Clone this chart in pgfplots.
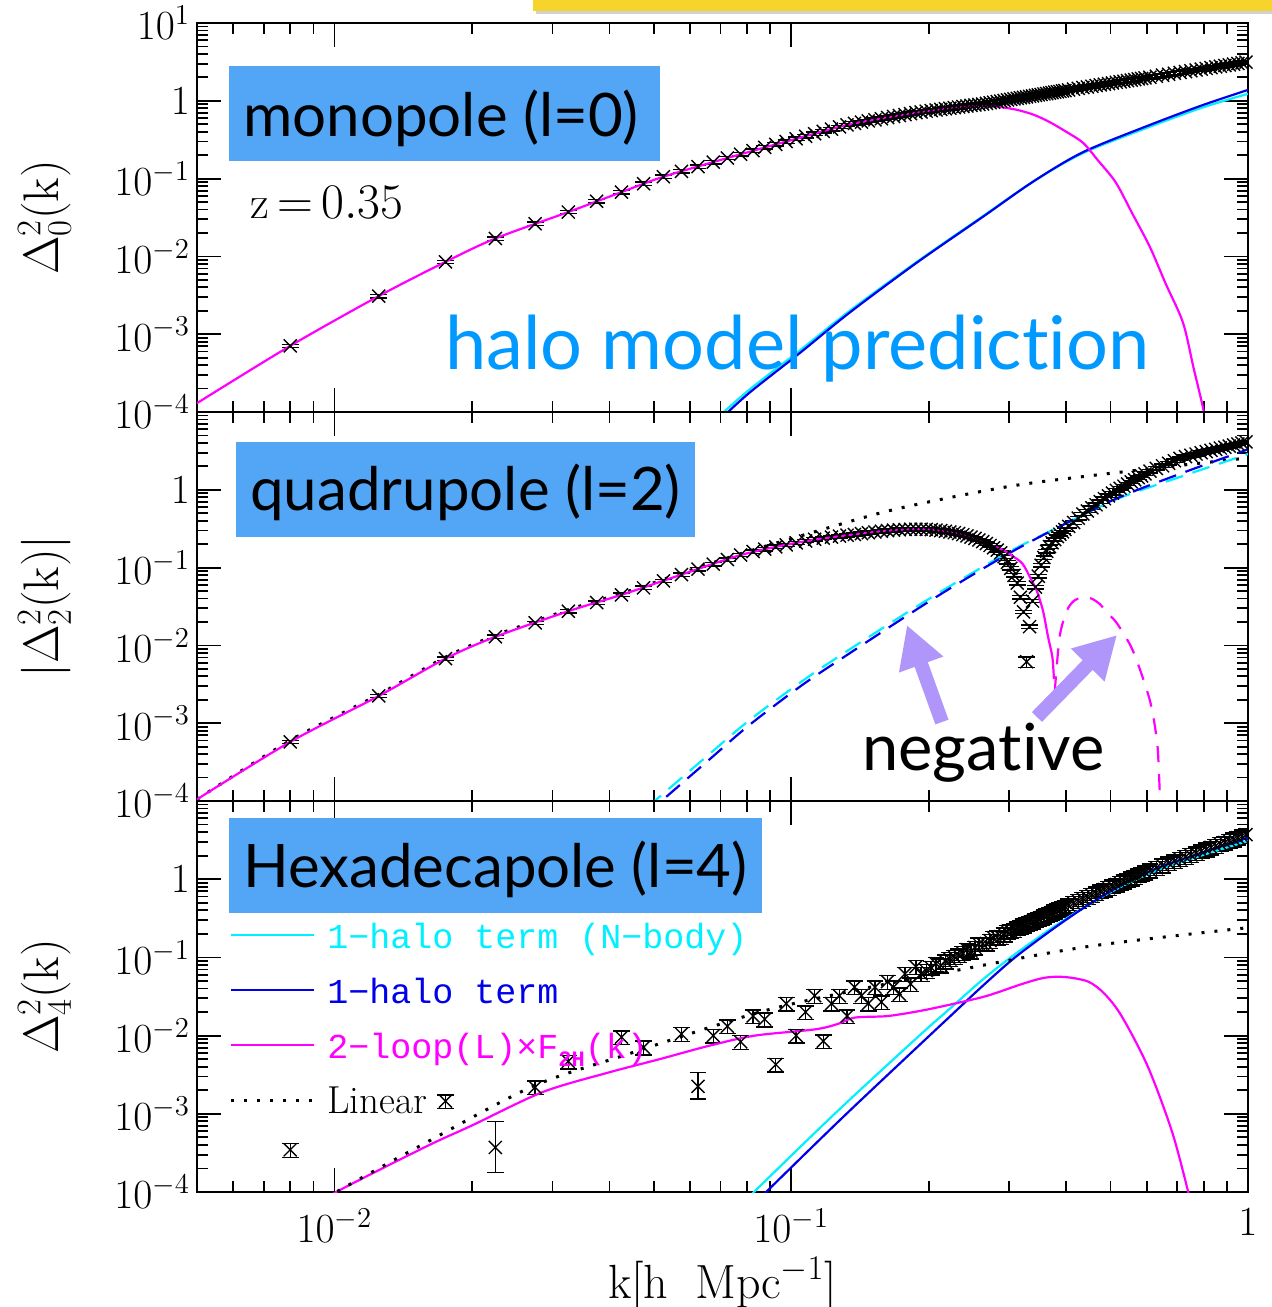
\documentclass[border=0pt]{standalone}
\usepackage{fontspec}
\setmonofont{Liberation Mono}
\newfontfamily\lato[Ligatures={NoCommon,NoContextual,NoRequired,NoDiscretionary}]{Lato}
\usepackage{pgfplots}
\usepackage{pgfplotstable}
\pgfplotsset{compat=1.18}
\usetikzlibrary{arrows.meta}

\definecolor{mag}{RGB}{255,0,255}
\definecolor{cyn}{RGB}{0,240,255}
\definecolor{blu}{RGB}{0,0,235}
\definecolor{boxblue}{RGB}{83,166,246}
\definecolor{predblue}{RGB}{0,153,255}
\definecolor{arrowpurple}{RGB}{176,150,250}
\definecolor{ylw}{RGB}{246,212,44}

% measured points: k, monopole, quadrupole, hexadecapole
\pgfplotstableread{
k m0 m2 m4
0.008 7.08e-4 5.75e-4 3.47e-4
0.0125 3.09e-3 2.24e-3 nan
0.0175 8.51e-3 6.76e-3 1.45e-3
0.0225 0.0170 0.0129 nan
0.0275 0.0263 0.0195 2.19e-3
0.0325 0.0372 0.0275 4.68e-3
0.0375 0.0513 0.0355 nan
0.0425 0.0671 0.0447 9.55e-3
0.0475 0.0859 0.0550 7.08e-3
0.0525 0.1057 0.0676 nan
0.0575 0.124 0.0813 0.0105
0.0625 0.1426 0.0955 nan
0.0675 0.1626 0.111 0.0100
0.0725 0.184 0.127 0.0132
0.0775 0.206 0.145 8.32e-3
0.0825 0.229 0.161 0.0178
0.0875 0.252 0.173 0.0162
0.0925 0.275 0.185 4.27e-3
0.0975 0.300 0.196 0.0257
0.1025 0.325 0.208 0.0100
0.1075 0.350 0.220 0.0200
0.1125 0.377 0.232 0.0324
0.1175 0.405 0.240 8.5e-3
0.1225 0.433 0.247 0.0257
0.1275 0.462 0.254 0.0324
0.1325 0.490 0.261 0.0178
0.1375 0.513 0.267 0.0417
0.1425 0.533 0.274 0.0324
0.1475 0.552 0.281 0.0257
0.1525 0.570 0.287 0.0417
0.1575 0.589 0.294 0.0269
0.1625 0.610 0.299 0.0490
0.1675 0.628 0.303 0.0417
0.1725 0.647 0.306 0.0339
0.1775 0.665 0.309 0.0617
0.1825 0.685 0.311 0.0457
0.1875 0.705 0.312 0.0759
0.1925 0.719 0.312 0.0617
0.1975 0.735 0.310 0.0676
0.2025 0.748 0.308 0.0741
0.2075 0.762 0.303 0.0832
0.2125 0.775 0.299 0.0794
0.2175 0.789 0.293 0.0891
0.2225 0.804 0.287 0.0955
0.2275 0.817 0.281 0.102
0.2325 0.830 0.274 0.107
0.2375 0.845 0.265 0.114
0.2425 0.857 0.256 0.126
0.2475 0.871 0.247 0.120
0.2525 0.883 0.237 0.134
0.2575 0.897 0.226 0.148
0.2625 0.910 0.216 0.149
0.2675 0.927 0.204 0.151
0.2725 0.942 0.193 0.164
0.2775 0.959 0.180 0.178
0.2825 0.977 0.168 0.181
0.2875 0.993 0.155 0.184
0.2925 1.009 0.138 0.198
0.2975 1.026 0.117 0.214
0.3025 1.042 0.0977 0.217
0.3075 1.059 0.0794 0.226
0.3125 1.076 0.0631 0.237
0.3175 1.094 0.0417 0.247
0.3225 1.109 0.0269 0.257
0.3275 1.125 nan 0.267
0.3325 1.143 0.0174 0.279
0.3375 1.159 0.0372 0.288
0.3425 1.175 0.0562 0.301
0.3475 1.191 0.0776 0.312
0.3525 1.208 0.107 0.324
0.3575 1.225 0.135 0.336
0.3625 1.239 0.162 0.348
0.3675 1.256 0.186 0.361
0.3725 1.274 0.209 0.374
0.3775 1.291 0.229 0.388
0.3825 1.306 0.251 0.402
0.3875 1.321 0.269 0.414
0.3925 1.340 0.288 0.430
0.3975 1.355 0.309 0.443
0.405 1.377 0.339 0.465
0.415 1.413 0.380 0.497
0.425 1.442 0.432 0.527
0.435 1.479 0.490 0.564
0.445 1.507 0.535 0.596
0.455 1.538 0.588 0.631
0.465 1.570 0.641 0.664
0.475 1.603 0.705 0.703
0.485 1.633 0.769 0.740
0.495 1.663 0.838 0.778
0.505 1.694 0.906 0.815
0.515 1.726 0.984 0.857
0.525 1.754 1.047 0.897
0.535 1.782 1.114 0.940
0.545 1.816 1.189 0.982
0.555 1.845 1.265 1.028
0.565 1.875 1.346 1.076
0.575 1.910 1.432 1.125
0.585 1.936 1.510 1.169
0.595 1.968 1.607 1.225
0.61 2.009 1.738 1.297
0.63 2.070 1.884 1.400
0.65 2.133 2.037 1.503
0.67 2.193 2.193 1.603
0.69 2.254 2.360 1.710
0.71 2.312 2.529 1.816
0.73 2.371 2.673 1.928
0.75 2.432 2.780 2.046
0.77 2.489 2.877 2.163
0.79 2.553 2.992 2.291
0.81 2.606 3.097 2.410
0.83 2.667 3.206 2.547
0.85 2.723 3.311 2.673
0.87 2.786 3.436 2.825
0.89 2.838 3.532 2.951
0.91 2.897 3.648 3.105
0.93 2.958 3.758 3.243
0.95 3.020 3.882 3.404
0.97 3.076 4.000 3.565
0.99 3.133 4.121 3.724
}\datatab

% points with large error bars
\pgfplotstableread{
k v ep em
0.3275 6.17e-3 0.9e-3 0.95e-3
}\quadbig
\pgfplotstableread{
k v ep em
0.0225 3.72e-4 4.2e-4 1.94e-4
0.0625 2.24e-3 1.15e-3 6.9e-4
}\hexbig

% monopole curves
\pgfplotstableread{
k v
0.005 1.3e-4
0.008 7.08e-4
0.0125 3.09e-3
0.0175 8.51e-3
0.0225 0.0170
0.0325 0.0372
0.0425 0.0671
0.0525 0.1057
0.0725 0.184
0.1025 0.325
0.1325 0.490
0.1625 0.610
0.1925 0.719
0.2225 0.800
0.245 0.845
0.263 0.860
0.285 0.835
0.312 0.766
0.34 0.66
0.367 0.537
0.40 0.40
0.4355 0.288
0.47 0.170
0.5136 0.089
0.56 0.0343
0.61 0.0132
0.66 4.5e-3
0.7206 1.41e-3
0.76 3.7e-4
0.7988 1.07e-4
0.82 4e-5
}\monomag
\pgfplotstableread{
k v
0.07 8.1e-5
0.0811 1.78e-4
0.1045 5.75e-4
0.1343 1.90e-3
0.1883 8.3e-3
0.263 0.0324
0.34 0.093
0.4355 0.219
0.61 0.49
0.80 0.89
1.0 1.38
}\monoblue
\pgfplotstableread{
k v
0.069 8.5e-5
0.0811 1.95e-4
0.1045 6.2e-4
0.1343 2.0e-3
0.1883 8.5e-3
0.263 0.0330
0.34 0.093
0.4355 0.213
0.61 0.465
0.80 0.83
1.0 1.23
}\monocyan

% quadrupole curves
\pgfplotstableread{
k v
0.005 1.05e-4
0.008 5.75e-4
0.0125 2.24e-3
0.0175 6.76e-3
0.0225 0.0129
0.0325 0.0275
0.0425 0.0447
0.0575 0.0813
0.0775 0.145
0.1025 0.208
0.1325 0.261
0.1625 0.299
0.1925 0.312
0.2225 0.287
0.2525 0.237
0.2725 0.195
0.290 0.170
0.305 0.141
0.321 0.112
0.335 0.0708
0.345 0.050
0.356 0.0275
0.365 0.0129
0.373 7.1e-3
0.376 3.7e-3
}\quadmag
\pgfplotstableread{
k v
0.3775 2.5e-3
0.387 0.0129
0.401 0.0275
0.415 0.037
0.435 0.0417
0.455 0.0398
0.474 0.0339
0.495 0.0252
0.517 0.0191
0.560 8.5e-3
0.610 1.95e-3
0.632 5.9e-4
0.638 2.5e-4
0.642 1.0e-4
0.645 5e-5
}\quadmagneg
\pgfplotstableread{
k v
0.005 1.05e-4
0.008 6.0e-4
0.0125 2.34e-3
0.0175 7.08e-3
0.0225 0.0135
0.0275 0.0204
0.0325 0.0288
0.0375 0.0372
0.0475 0.0575
0.0575 0.0851
0.0775 0.151
0.108 0.269
0.1585 0.513
0.2223 0.794
0.312 1.148
0.4355 1.479
0.631 1.905
1.0 2.57
}\quadlin
\pgfplotstableread{
k v
0.0501 8.3e-5
0.0661 3.39e-4
0.0811 9.55e-4
0.1062 3.16e-3
0.1343 7.94e-3
0.179 0.024
0.2223 0.0537
0.3013 0.155
0.382 0.324
0.516 0.776
0.721 1.66
1.0 3.31
}\quadblue
\pgfplotstableread{
k v
0.0484 8.3e-5
0.0661 3.98e-4
0.0811 1.10e-3
0.1062 3.55e-3
0.1343 8.9e-3
0.179 0.0263
0.2223 0.0575
0.3013 0.162
0.382 0.324
0.516 0.759
0.721 1.51
1.0 2.88
}\quadcyan

% hexadecapole curves
\pgfplotstableread{
k v
0.0098 8e-5
0.01009 1.0e-4
0.01585 3.8e-4
0.020 7.1e-4
0.02858 1.9e-3
0.040 3.4e-3
0.0515 5.0e-3
0.066 7.4e-3
0.0832 0.0100
0.1125 0.0120
0.1265 0.0141
0.1377 0.0170
0.1626 0.0178
0.1932 0.0209
0.228 0.0257
0.269 0.0324
0.320 0.0457
0.359 0.055
0.397 0.0562
0.447 0.049
0.486 0.0339
0.530 0.0174
0.604 3.98e-3
0.682 5.9e-4
0.740 1.0e-4
0.75 7e-5
}\hexmag
\pgfplotstableread{
k v
0.0098 8.5e-5
0.01009 1.0e-4
0.01585 4.27e-4
0.02716 2.24e-3
0.0437 5.75e-3
0.0853 0.0200
0.141 0.0389
0.228 0.0676
0.447 0.138
1.0 0.240
}\hexlin
\pgfplotstableread{
k v
0.0870 9.3e-5
0.1122 3.98e-4
0.1377 1.26e-3
0.1932 8.1e-3
0.2249 0.0186
0.263 0.0437
0.309 0.100
0.3776 0.240
0.4467 0.468
0.53 0.851
0.631 1.38
0.74 1.91
1.0 3.39
}\hexblue
\pgfplotstableread{
k v
0.0818 9.3e-5
0.1122 5.6e-4
0.1377 1.74e-3
0.1932 0.0107
0.2249 0.0234
0.263 0.0525
0.309 0.110
0.3776 0.251
0.4467 0.468
0.53 0.813
0.631 1.29
0.74 1.78
1.0 3.09
}\hexcyan

\pgfplotsset{
  every axis/.append style={
    scale only axis, width=525.5pt,
    xmin=0.005, xmax=1, ymin=1e-4, ymax=10,
    tick align=inside, major tick length=12pt, minor tick length=5.5pt,
    axis line style={line width=1.3pt},
    tick style={line width=0.9pt, black},
    xtick={0.01,0.1,1},
    minor xtick={0.006,0.007,0.008,0.009,0.02,0.03,0.04,0.05,0.06,0.07,0.08,0.09,0.2,0.3,0.4,0.5,0.6,0.7,0.8,0.9},
    ytick={1e-4,1e-3,0.01,0.1,1,10},
    minor ytick={2e-4,3e-4,4e-4,5e-4,6e-4,7e-4,8e-4,9e-4,2e-3,3e-3,4e-3,5e-3,6e-3,7e-3,8e-3,9e-3,0.02,0.03,0.04,0.05,0.06,0.07,0.08,0.09,0.2,0.3,0.4,0.5,0.6,0.7,0.8,0.9,2,3,4,5,6,7,8,9},
    tick label style={font=\fontsize{20}{22}\selectfont},
    xticklabel style={yshift=-5pt},
  },
  every axis y label/.style={at={(axis description cs:-0.145,0.5)}, rotate=90, anchor=center, font=\fontsize{25}{28}\selectfont},
  every axis x label/.style={at={(axis description cs:0.5,-0.235)}, anchor=center, font=\fontsize{24}{26}\selectfont},
  datamark/.style={only marks, mark=x, mark size=4.6pt, black, mark options={line width=0.7pt},
    error bars/y dir=both,
    error bars/error bar style={line width=0.7pt, black},
    error bars/error mark options={rotate=90, mark size=4.2pt, line width=0.7pt, black}},
  mycurve/.style={line width=1.1pt, no marks, smooth, tension=0.5},
  mylin/.style={black, line width=1.5pt, dash pattern=on 1.5pt off 5pt, no marks, smooth, tension=0.5},
}

\begin{document}
\begin{tikzpicture}
\path[use as bounding box] (0pt,0pt) rectangle (636pt,-653.5pt);
% yellow banner (cut off at top)
\fill[black!18] (268pt,-4.5pt) rectangle (640pt,-7pt);
\fill[ylw] (266.5pt,2pt) rectangle (640pt,-5.3pt);

% ---------------- monopole ----------------
\begin{loglogaxis}[at={(98.5pt,-206pt)}, anchor=south west, height=194.5pt,
  xticklabels={},
  yticklabels={$10^{-4}$,$10^{-3}$,$10^{-2}$,$10^{-1}$,$1$,$10^{1}$},
  ylabel={$\Delta^2_0(\mathrm{k})$}]
\addplot[datamark, error bars/y fixed relative=0.05, forget plot] table[x=k,y=m0]{\datatab};
\addplot[mycurve, cyn] table[x=k,y=v]{\monocyan};
\addplot[mycurve, blu] table[x=k,y=v]{\monoblue};
\addplot[mycurve, mag] table[x=k,y=v]{\monomag};
\fill[boxblue] (rel axis cs:0.0304,0.6452) rectangle (rel axis cs:0.4405,0.8895);
\node[anchor=base west, inner sep=0pt, font=\lato\fontsize{30}{32}\selectfont] at (rel axis cs:0.0438,0.707) {monopole (l=0)};
\node[anchor=base west, inner sep=0pt, font=\fontsize{23}{26}\selectfont] at (rel axis cs:0.0504,0.4987) {$\mathrm{z}\,{=}\,0.35$};
\node[anchor=base west, inner sep=0pt, text=predblue, font=\lato\fontsize{37}{40}\selectfont] at (rel axis cs:0.236,0.108) {halo model prediction};
\end{loglogaxis}

% ---------------- quadrupole ----------------
\begin{loglogaxis}[at={(98.5pt,-400.5pt)}, anchor=south west, height=194.5pt,
  xticklabels={},
  yticklabels={$10^{-4}$,$10^{-3}$,$10^{-2}$,$10^{-1}$,$1$,{}},
  ylabel={$|\Delta^2_2(\mathrm{k})|$}]
\addplot[datamark, error bars/y fixed relative=0.05, forget plot] table[x=k,y=m2]{\datatab};
\addplot[datamark, error bars/y explicit, forget plot] table[x=k,y=v,y error plus=ep,y error minus=em]{\quadbig};
\addplot[mylin] table[x=k,y=v]{\quadlin};
\addplot[mycurve, cyn, dash pattern=on 9pt off 5pt] table[x=k,y=v]{\quadcyan};
\addplot[mycurve, blu, dash pattern=on 9pt off 5pt, dash phase=6pt] table[x=k,y=v]{\quadblue};
\addplot[mycurve, mag] table[x=k,y=v]{\quadmag};
\addplot[mycurve, mag, dash pattern=on 8pt off 6pt] table[x=k,y=v]{\quadmagneg};
\fill[boxblue] (rel axis cs:0.0371,0.6787) rectangle (rel axis cs:0.4738,0.9229);
\node[anchor=base west, inner sep=0pt, font=\lato\fontsize{30}{32}\selectfont] at (rel axis cs:0.0504,0.748) {quadrupole (l=2)};
\node[anchor=base west, inner sep=0pt, font=\lato\fontsize{32.5}{34}\selectfont] at (rel axis cs:0.6327,0.0797) {negative};
\draw[arrowpurple, line width=7pt, -{Triangle[width=22pt,length=21pt]}] (rel axis cs:0.7088,0.203) -- (rel axis cs:0.6755,0.4524);
\draw[arrowpurple, line width=7pt, -{Triangle[width=22pt,length=21pt]}] (rel axis cs:0.7992,0.216) -- (rel axis cs:0.8754,0.4267);
\end{loglogaxis}

% ---------------- hexadecapole ----------------
\begin{loglogaxis}[at={(98.5pt,-596pt)}, anchor=south west, height=195.5pt,
  xticklabels={$10^{-2}$,$10^{-1}$,$1$},
  yticklabels={$10^{-4}$,$10^{-3}$,$10^{-2}$,$10^{-1}$,$1$,{}},
  ylabel={$\Delta^2_4(\mathrm{k})$},
  xlabel={$\mathrm{k}[\mathrm{h}\;\;\mathrm{Mpc}^{-1}]$},
  legend cell align=left,
  legend image code/.code={\draw[#1] (0pt,0.3em) -- (41.5pt,0.3em);},
  legend style={at={(rel axis cs:0.0304,0.690)}, anchor=north west, draw=none, fill=none,
    inner sep=0pt, row sep=9pt,
    nodes={inner sep=0pt, text height=13pt, text depth=5.5pt},
    /tikz/every odd column/.append style={column sep=6pt},
    font=\ttfamily\fontsize{17.5}{19}\selectfont}]
\addplot[datamark, error bars/y fixed relative=0.2, forget plot] table[x=k,y=m4]{\datatab};
\addplot[datamark, error bars/y explicit, forget plot] table[x=k,y=v,y error plus=ep,y error minus=em]{\hexbig};
\addplot[mycurve, cyn] table[x=k,y=v]{\hexcyan};
\addlegendentry{\textcolor{cyn}{1−halo term (N−body)}}
\addplot[mycurve, blu] table[x=k,y=v]{\hexblue};
\addlegendentry{\textcolor{blu}{1−halo term}}
\addplot[mycurve, mag] table[x=k,y=v]{\hexmag};
\addlegendentry{\textcolor{mag}{2−loop(L)×F\raisebox{-0.45ex}{\fontsize{11}{11}\selectfont\bfseries 2H}(k)}}
\addplot[mylin] table[x=k,y=v]{\hexlin};
\addlegendentry{{\rmfamily\fontsize{19.5}{20}\selectfont Linear}}
\fill[boxblue] (rel axis cs:0.0304,0.7136) rectangle (rel axis cs:0.5376,0.9565);
\node[anchor=base west, inner sep=0pt, font=\lato\fontsize{30}{32}\selectfont] at (rel axis cs:0.0438,0.780) {Hexadecapole (l=4)};
\end{loglogaxis}
\end{tikzpicture}
\end{document}
